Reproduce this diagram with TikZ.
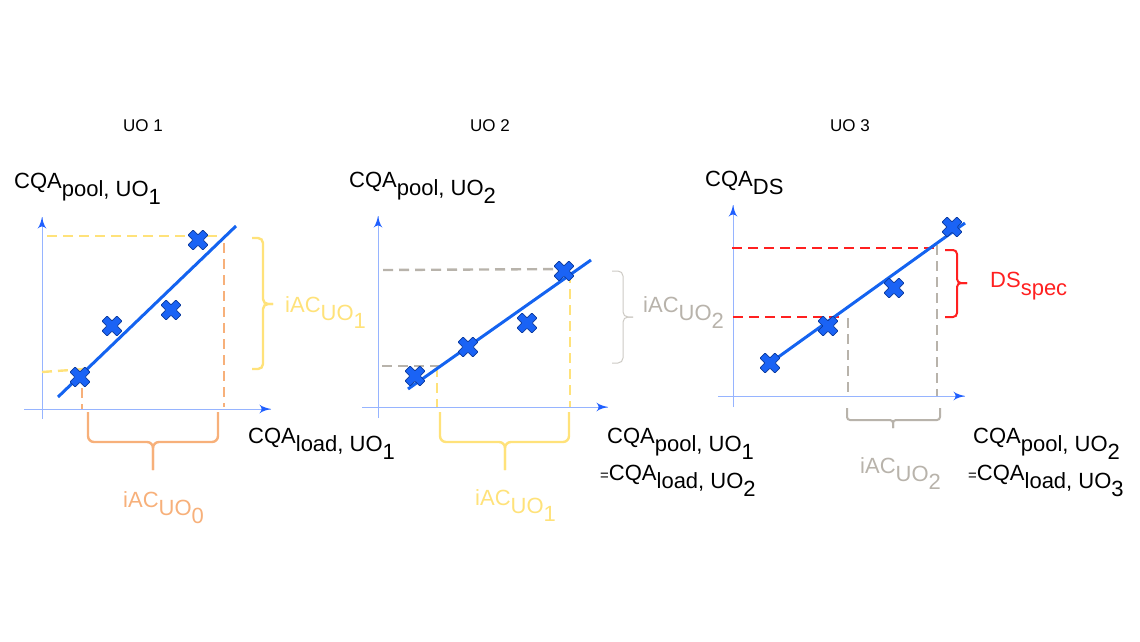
\documentclass[tikz,border=0pt]{standalone}
\usepackage{fontspec}
\setmainfont{Liberation Sans}
\usepackage{tikz}
\usetikzlibrary{arrows}
\usetikzlibrary{decorations.markings}
\usetikzlibrary{positioning}
\definecolor{axline}{HTML}{96B4FF}
\definecolor{axtip}{HTML}{1F5FFF}
\definecolor{fitblue}{HTML}{1463F0}
\definecolor{ptblue}{HTML}{1A63F5}
\definecolor{ptdark}{HTML}{0B3A9E}
\definecolor{myellow}{HTML}{FFE27A}
\definecolor{lorange}{HTML}{F7B07A}
\definecolor{lgray}{HTML}{B8B3AB}
\definecolor{mred}{HTML}{FF2020}
\tikzset{axis/.style = {draw=axline, line width=1pt,
                        decoration={markings,
                                    mark=at position 1 with {\arrow[scale=2, color=axtip]{latex'}}},
                        postaction={decorate}},
         fitline/.style = {draw=fitblue, line width=3pt},
         guide/.style = {line width=2.4pt, dash pattern=on 10pt off 6pt},
         brace/.style = {line width=2.4pt, rounded corners=6pt},
         datapt/.style = {fill=ptblue, draw=ptdark, line width=0.8pt, rounded corners=0.8pt},
         lbl/.style = {font=\fontsize{22}{26}\selectfont, inner sep=0pt, anchor=base west},
         title/.style = {font=\fontsize{17}{20}\selectfont, inner sep=0pt}}
\newcommand{\dn}[1]{\raisebox{-0.38em}{#1}}
\newcommand{\eqs}{{\fontsize{15}{18}\selectfont=}}
\newcommand{\datapt}[1]{\draw [datapt, shift={#1}, rotate=45]
  (-3.6, -10.5) -- (3.6, -10.5) -- (3.6, -3.6) -- (10.5, -3.6) -- (10.5, 3.6) -- (3.6, 3.6)
  -- (3.6, 10.5) -- (-3.6, 10.5) -- (-3.6, 3.6) -- (-10.5, 3.6) -- (-10.5, -3.6) -- (-3.6, -3.6) -- cycle;}

\begin{document}
\begin{tikzpicture}[x=1pt, y=-1pt]
  \useasboundingbox (0, 0) rectangle (1140, 641);

  % UO 1
  \draw [axis] (24, 409) -- (271, 409);
  \draw [axis] (42, 419) -- (42, 217);
  \draw [guide, myellow] (47, 236) -- (222, 236);
  \draw [guide, myellow] (42, 372) -- (85, 369);
  \draw [guide, lorange] (82, 372) -- (82, 409);
  \draw [guide, lorange] (224, 243) -- (224, 407);
  \draw [brace, lorange] (88, 412) -- (88, 442) -- (153, 442) -- (153, 470);
  \draw [brace, lorange] (218, 412) -- (218, 442) -- (153, 442) -- (153, 470);
  \draw [brace, myellow, rounded corners=5pt] (252, 238) -- (263, 238) -- (263, 304) -- (273, 304);
  \draw [brace, myellow, rounded corners=5pt] (252, 369) -- (263, 369) -- (263, 304) -- (273, 304);
  \draw [fitline] (58, 397) -- (236, 226);
  \foreach \p in {(80, 377), (112, 326), (171, 310), (198, 240)}
    {\datapt{\p}}

  \node [title] (t1) at (143, 126) {UO 1};
  \node [lbl] (y1) at (14, 188) {CQA\dn{pool, UO\dn{1}}};
  \node [lbl] (x1) at (248, 443) {CQA\dn{load, UO\dn{1}}};
  \node [lbl, lorange] (b1) at (123, 507) {iAC\dn{UO\dn{0}}};
  \node [lbl, myellow] (r1) at (285, 312) {iAC\dn{UO\dn{1}}};

  % UO 2
  \draw [axis] (362, 407) -- (608, 407);
  \draw [axis] (378, 418) -- (378, 216);
  \draw [guide, lgray] (383, 270) -- (573, 269);
  \draw [guide, lgray] (382, 366) -- (444, 366);
  \draw [guide, myellow] (437, 367) -- (437, 407);
  \draw [guide, myellow] (570, 273) -- (570, 407);
  \draw [brace, myellow] (440, 412) -- (440, 442) -- (505, 442) -- (505, 470);
  \draw [brace, myellow] (569, 412) -- (569, 442) -- (505, 442) -- (505, 470);
  \draw [brace, lgray!70, line width=1pt, rounded corners=5pt] (612, 271) -- (623, 271) -- (623, 317) -- (633, 317);
  \draw [brace, lgray!70, line width=1pt, rounded corners=5pt] (612, 363) -- (623, 363) -- (623, 317) -- (633, 317);
  \draw [fitline] (408, 389) -- (591, 260);
  \foreach \p in {(415, 376), (468, 347), (527, 323), (564, 271)}
    {\datapt{\p}}

  \node [title] (t2) at (490, 126) {UO 2};
  \node [lbl] (y2) at (349, 187) {CQA\dn{pool, UO\dn{2}}};
  \node [lbl] (x2) at (607, 443) {CQA\dn{pool, UO\dn{1}}};
  \node [lbl] (x2b) at (600, 480) {\eqs CQA\dn{load, UO\dn{2}}};
  \node [lbl, myellow] (b2) at (475, 505) {iAC\dn{UO\dn{1}}};
  \node [lbl, lgray] (r2) at (643, 312) {iAC\dn{UO\dn{2}}};

  % UO 3
  \draw [axis] (718, 396) -- (965, 396);
  \draw [axis] (733, 407) -- (733, 205);
  \draw [guide, mred] (732, 248) -- (937, 248);
  \draw [guide, mred] (733, 317) -- (843, 317);
  \draw [guide, lgray] (848, 318) -- (848, 396);
  \draw [guide, lgray] (937, 245) -- (937, 396);
  \draw [brace, lgray, line width=2pt, rounded corners=3pt] (847, 408) -- (847, 420) -- (893, 420) -- (893, 428);
  \draw [brace, lgray, line width=2pt, rounded corners=3pt] (940, 408) -- (940, 420) -- (893, 420) -- (893, 428);
  \draw [brace, mred, line width=2pt, rounded corners=4pt] (945, 250) -- (957, 250) -- (957, 283) -- (967, 283);
  \draw [brace, mred, line width=2pt, rounded corners=4pt] (945, 317) -- (957, 317) -- (957, 283) -- (967, 283);
  \draw [fitline] (770, 363) -- (965, 223);
  \foreach \p in {(770, 363), (828, 326), (894, 288), (952, 227)}
    {\datapt{\p}}

  \node [title] (t3) at (850, 126) {UO 3};
  \node [lbl] (y3) at (705, 186) {CQA\dn{DS}};
  \node [lbl] (x3) at (973, 443) {CQA\dn{pool, UO\dn{2}}};
  \node [lbl] (x3b) at (968, 480) {\eqs CQA\dn{load, UO\dn{3}}};
  \node [lbl, lgray] (b3) at (860, 473) {iAC\dn{UO\dn{2}}};
  \node [lbl, mred] (r3) at (990, 287) {DS\dn{spec}};
\end{tikzpicture}
\end{document}
